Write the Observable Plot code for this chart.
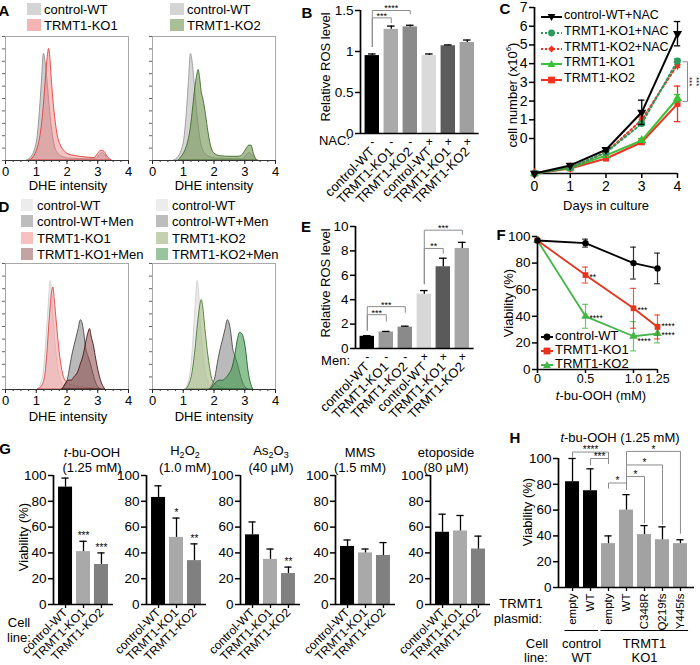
<!DOCTYPE html>
<html><head><meta charset="utf-8">
<script src="https://cdn.jsdelivr.net/npm/d3@7"></script>
<script src="https://cdn.jsdelivr.net/npm/@observablehq/plot@0.6"></script>
<style>
body{margin:0;background:#fff;}
#fig{position:relative;width:700px;height:665px;font-family:"Liberation Sans",Arial,Helvetica,sans-serif;color:#000;overflow:hidden;background:#fff;}
#fig div.t{position:absolute;white-space:nowrap;line-height:1;}
.sub{font-size:9px;vertical-align:-3px;}
</style></head><body><div id="fig"></div>
<script>
// ================= DATA =================
// Panel A: DHE intensity histograms (x = DHE intensity, y = relative count)
const dheA_wt  = [[0.7,0],[0.85,0.03],[0.95,0.08],[1.05,0.2],[1.12,0.4],[1.18,0.62],[1.25,0.86],[1.3,0.8],[1.38,0.6],[1.45,0.4],[1.52,0.24],[1.6,0.12],[1.7,0.06],[1.85,0.03],[2.1,0.015],[2.6,0.01],[2.95,0.01],[3.05,0.04],[3.15,0.06],[3.25,0.04],[3.35,0.01],[3.45,0]];
const dheA_ko1 = [[0.8,0],[0.95,0.04],[1.05,0.1],[1.15,0.22],[1.25,0.45],[1.32,0.68],[1.38,0.85],[1.42,0.9],[1.46,0.82],[1.52,0.6],[1.6,0.38],[1.7,0.2],[1.8,0.12],[1.9,0.08],[2.05,0.05],[2.3,0.035],[2.6,0.025],[2.9,0.02],[3.0,0.05],[3.12,0.08],[3.22,0.07],[3.32,0.03],[3.45,0]];
const dheA_ko2 = [[0.85,0],[0.95,0.03],[1.05,0.07],[1.15,0.14],[1.25,0.27],[1.32,0.42],[1.4,0.6],[1.45,0.68],[1.5,0.73],[1.55,0.66],[1.6,0.55],[1.65,0.5],[1.72,0.4],[1.8,0.26],[1.9,0.12],[2.0,0.06],[2.2,0.035],[2.5,0.03],[2.8,0.03],[2.95,0.05],[3.05,0.09],[3.15,0.12],[3.22,0.12],[3.3,0.05],[3.4,0]];
// Panel D
const dheD_wt     = [[1.05,0],[1.15,0.04],[1.25,0.15],[1.32,0.35],[1.4,0.65],[1.47,0.86],[1.52,0.75],[1.58,0.5],[1.65,0.3],[1.72,0.15],[1.8,0.07],[1.9,0.03],[2.05,0.01],[2.2,0]];
const dheD_wtMen  = [[1.85,0],[1.95,0.03],[2.05,0.1],[2.12,0.2],[2.2,0.3],[2.3,0.4],[2.38,0.48],[2.45,0.55],[2.5,0.53],[2.56,0.45],[2.62,0.33],[2.7,0.26],[2.78,0.2],[2.86,0.12],[2.95,0.05],[3.05,0.01],[3.12,0]];
const dheD_ko1    = [[1.05,0],[1.2,0.03],[1.3,0.12],[1.38,0.35],[1.45,0.6],[1.52,0.78],[1.56,0.81],[1.6,0.72],[1.68,0.5],[1.76,0.3],[1.85,0.15],[1.95,0.07],[2.1,0.04],[2.4,0.02],[2.8,0.01],[3.1,0]];
const dheD_ko1Men = [[1.85,0],[1.95,0.04],[2.05,0.07],[2.15,0.07],[2.25,0.1],[2.35,0.13],[2.45,0.2],[2.55,0.28],[2.63,0.38],[2.7,0.45],[2.75,0.48],[2.8,0.42],[2.88,0.34],[2.95,0.24],[3.05,0.12],[3.15,0.04],[3.25,0]];
const dheD_ko2    = [[1.1,0],[1.2,0.04],[1.3,0.13],[1.4,0.32],[1.48,0.52],[1.55,0.66],[1.6,0.71],[1.65,0.65],[1.72,0.48],[1.8,0.3],[1.88,0.16],[1.96,0.07],[2.1,0.03],[2.3,0.01],[2.5,0]];
const dheD_ko2Men = [[1.9,0],[2.0,0.03],[2.1,0.06],[2.2,0.07],[2.3,0.07],[2.4,0.09],[2.5,0.12],[2.6,0.17],[2.7,0.28],[2.78,0.4],[2.85,0.45],[2.92,0.44],[2.98,0.4],[3.05,0.3],[3.12,0.15],[3.2,0.05],[3.28,0]];

// Panel B: relative ROS level (NAC)
const rosB_labels = ["control-WT","TRMT1-KO1","TRMT1-KO2","control-WT","TRMT1-KO1","TRMT1-KO2"];
const rosB_nac    = ["-","-","-","+","+","+"];
const rosB_values = [0.95,1.27,1.30,0.95,1.07,1.11];
const rosB_err    = [0.02,0.04,0.02,0.02,0.01,0.03];
const rosB_colors = ["#000000","#aaaaaa","#8a8a8a","#dadada","#5c5c5c","#a0a0a0"];
const rosB_sig    = [{from:0,to:1,level:1.41,left:1.06,right:1.35,label:"***"},{from:0,to:2,level:1.5,left:1.06,right:1.46,label:"****"}];

// Panel C: cell number over days
const cDays       = [0,1,2,3,4];
const cCtlNAC     = [-1.87,-1.44,-0.6,1.4,5.6];  const cCtlNAC_err = [0,0.05,0.1,0.65,0.65];
const cKO1NAC     = [-1.87,-1.55,-0.75,0.8,4.15]; const cKO1NAC_err = [0,0.05,0.05,0.1,0.1];
const cKO2NAC     = [-1.87,-1.55,-0.75,1.0,3.95]; const cKO2NAC_err = [0,0.05,0.05,0.15,0.15];
const cKO1        = [-1.87,-1.58,-0.9,-0.1,2.15]; const cKO1_err = [0,0.05,0.1,0.1,0.2];
const cKO2        = [-1.87,-1.6,-1.07,-0.2,1.85]; const cKO2_err = [0,0.05,0.05,0.1,0.95];
const cYTicks     = [0,1,2,3,4,5,6,7];

// Panel E: relative ROS level (menadione)
const rosE_labels = ["control-WT","TRMT1-KO1","TRMT1-KO2","control-WT","TRMT1-KO1","TRMT1-KO2"];
const rosE_men    = ["-","-","-","+","+","+"];
const rosE_values = [1.0,1.35,1.75,4.45,6.7,8.2];
const rosE_err    = [0.05,0.05,0.08,0.3,0.7,0.5];
const rosE_colors = ["#000000","#9a9a9a","#8a8a8a","#d8d8d8","#5a5a5a","#a6a6a6"];
const rosE_sig    = [{from:0,to:1,level:2.77,left:1.5,right:2.25,label:"***"},{from:0,to:2,level:3.43,left:1.5,right:2.96,label:"***"},{from:3,to:4,level:8.2,left:5.3,right:7.8,label:"**"},{from:3,to:5,level:9.7,left:5.3,right:9.35,label:"***"}];

// Panel F: viability vs t-bu-OOH
const fDose   = [0,0.5,1.0,1.25];
const fCtl    = [97,95,80,76]; const fCtl_err = [1,3,12,11.5];
const fKO1    = [97,71,46,32]; const fKO1_err = [1,6,15,9];
const fKO2    = [97,40,25,27]; const fKO2_err = [1,9,11,7];
const fStars  = [{x:0.5,y:71,t:"**"},{x:0.5,y:40,t:"****"},{x:1.0,y:46,t:"***"},{x:1.0,y:23,t:"****"},{x:1.25,y:34,t:"****"},{x:1.25,y:27.5,t:"****"}];

// Panel G: viability under different stresses
const gLabels = ["control-WT","TRMT1-KO1","TRMT1-KO2"];
const gValues = [[91,41,31],[83,52,34],[54,35,24],[45,40,38],[56,57,43]];
const gErr    = [[7,8,9],[9,15,13],[10,8,5],[5,3,10],[14,12,10]];
const gStars  = [["","***","***"],["","*","**"],["","","**"],["","",""],["","",""]];
const gColors = ["#000000","#a9a9a9","#808080"];

// Panel H: rescue with TRMT1 plasmids
const hLabels = ["empty","WT","empty","WT","C348R","Q219fs","Y445fs"];
const hValues = [82,75,34,60,41,37,34];
const hErr    = [18,17,6,12,7,10,3];
const hColors = ["#000000","#000000","#a2a2a2","#a2a2a2","#a2a2a2","#a2a2a2","#a2a2a2"];
const hSig    = [{from:0,to:2,level:105,left:101,right:96,label:"****"},{from:1,to:2,level:100,left:95,right:96,label:"***"},{from:2,to:3,level:81,left:77,right:76,label:"*"},{from:3,to:4,level:86,left:76,right:50,label:"*"},{from:3,to:5,level:95,left:76,right:49,label:"*"},{from:3,to:6,level:105.5,left:76,right:42,label:"*"}];
const hGroups = [{from:0,to:1,name:"control\nWT"},{from:2,to:6,name:"TRMT1\nKO1"}];

// ================= HELPERS =================
const FONT = '"Liberation Sans", Arial, Helvetica, sans-serif';
const fig = document.getElementById("fig");
function draw(fr, opts) {
  const svg = Plot.plot(Object.assign({
    width: 700, height: 665,
    marginLeft: fr.L, marginRight: 700 - fr.R, marginTop: fr.T, marginBottom: 665 - fr.B,
    style: {fontFamily: FONT, fontSize: "13px", background: "transparent", overflow: "visible", color: "#000"},
    color: {type: "identity"}
  }, opts));
  svg.style.position = "absolute"; svg.style.left = "0px"; svg.style.top = "0px";
  fig.appendChild(svg);
}
function txt(html, x, y, o = {}) {
  const d = document.createElement("div");
  d.className = "t";
  d.innerHTML = html;
  const ax = o.anchor === "start" ? "0" : o.anchor === "end" ? "-100%" : "-50%";
  d.style.left = x + "px"; d.style.top = y + "px";
  d.style.fontSize = (o.size || 12.5) + "px";
  if (o.bold) d.style.fontWeight = "bold";
  d.style.transform = `translate(${ax},-50%)` + (o.rotate ? ` rotate(${o.rotate}deg)` : "");
  fig.appendChild(d);
}
function swatch(x, y, w, h, color) {
  const d = document.createElement("div");
  Object.assign(d.style, {position: "absolute", left: x + "px", top: (y - h / 2) + "px", width: w + "px", height: h + "px", background: color});
  fig.appendChild(d);
}
function symSvg(sym, c, cx, cy, r) {
  if (sym === "circle") return `<circle cx="${cx}" cy="${cy}" r="${r}" fill="${c}"/>`;
  if (sym === "square") return `<rect x="${cx-r}" y="${cy-r}" width="${2*r}" height="${2*r}" fill="${c}"/>`;
  if (sym === "triangle") return `<path d="M${cx},${cy-r-0.5}L${cx+r+0.5},${cy+r-0.3}L${cx-r-0.5},${cy+r-0.3}Z" fill="${c}"/>`;
  if (sym === "tridown") return `<path d="M${cx},${cy+r+0.5}L${cx+r+0.5},${cy-r+0.3}L${cx-r-0.5},${cy-r+0.3}Z" fill="${c}"/>`;
  if (sym === "diamond") return `<path d="M${cx},${cy-r}L${cx+r},${cy}L${cx},${cy+r}L${cx-r},${cy}Z" fill="${c}"/>`;
  return "";
}
function lineKey(x, y, w, color, dash, sym, label, size) {
  const d = document.createElement("div");
  Object.assign(d.style, {position: "absolute", left: x + "px", top: (y - 6) + "px", width: w + "px", height: "12px"});
  d.innerHTML = `<svg width="${w}" height="12"><line x1="0" y1="6" x2="${w}" y2="6" stroke="${color}" stroke-width="2" ${dash ? 'stroke-dasharray="2,2"' : ""}/>${symSvg(sym, color, w / 2, 6, 3.4)}</svg>`;
  fig.appendChild(d);
  txt(label, x + w + 2, y, {anchor: "start", size: size || 12.5});
}

function hist(fr, series) {
  draw(fr, {
    x: {domain: [0, 4]}, y: {domain: [0, 1]},
    marks: [
      Plot.frame({stroke: "#a8a8a8"}),
      ...series.map(s => Plot.areaY(s.data, {x: d => d[0], y: d => d[1], fill: s.fill, fillOpacity: s.op, stroke: s.stroke, strokeWidth: 0.9, curve: "monotone-x"})),
      Plot.axisY({ticks: d3.range(0, 1.001, 0.1), tickSize: 3, tickFormat: () => "", stroke: "#666", label: null}),
      Plot.axisX({ticks: d3.range(0, 4.001, 0.25), tickSize: 2, tickFormat: () => "", stroke: "#333", label: null}),
      Plot.axisX({ticks: [0, 1, 2, 3, 4], tickSize: 4, tickPadding: 2, tickFormat: d => String(d), stroke: "#222", label: null, fontSize: 13}),
      Plot.ruleY([0], {stroke: "#333", strokeWidth: 1})
    ]
  });
}

function bracketMarks(sig, fs) {
  const pts = sig.flatMap((s, k) => [
    {k, x: s.from, y: s.left}, {k, x: s.from, y: s.level}, {k, x: s.to, y: s.level}, {k, x: s.to, y: s.right}]);
  return [
    Plot.line(pts, {x: "x", y: "y", z: "k", stroke: "#8c8c8c", strokeWidth: 1}),
    Plot.text(sig, {x: s => (s.from + s.to) / 2, y: "level", text: "label", dy: -2, fontSize: fs || 10})
  ];
}

function barPanel(fr, o) {
  const idx = o.labels.map((_, i) => i);
  const rows = idx.map(i => ({i, v: o.values[i], e: o.errs[i], c: o.colors[i]}));
  const xDom = [-o.pad, o.labels.length - 1 + o.pad];
  const cap = o.cap || 0.2;
  const marks = [
    Plot.rectY(rows, {x1: d => d.i - o.half, x2: d => d.i + o.half, y1: 0, y2: "v", fill: d => d.c}),
    Plot.ruleX(rows, {x: "i", y1: "v", y2: d => d.v + d.e, strokeWidth: 1.3}),
    Plot.ruleY(rows, {y: d => d.v + d.e, x1: d => d.i - cap, x2: d => d.i + cap, strokeWidth: 1.3}),
    Plot.ruleX([xDom[0]], {y1: o.yDomain[0], y2: o.yDomain[1], strokeWidth: 1.7}),
    Plot.ruleY([o.yDomain[0]], {x1: xDom[0], x2: xDom[1], strokeWidth: 1.7}),
    Plot.axisY({ticks: o.yTicks, tickFormat: d => String(d), tickSize: 5, tickPadding: 2, strokeWidth: 1.5, label: null, fontSize: 13.5}),
    Plot.axisX({ticks: idx, tickFormat: i => o.labels[i], tickRotate: o.rotate, tickSize: o.tickSize, tickPadding: o.tickPadding, strokeWidth: 1.3, label: null, fontSize: o.labelSize || 12.5})
  ];
  if (o.signs) marks.push(Plot.text(idx, {x: d => d, text: i => o.signs[i], frameAnchor: "bottom", lineAnchor: "middle", dy: 9, fontSize: 12}));
  if (o.sig) marks.push(...bracketMarks(o.sig, o.sigSize));
  if (o.stars) marks.push(Plot.text(rows, {x: "i", y: d => d.v + d.e, text: d => o.stars[d.i], dy: -5, fontSize: 10}));
  if (o.extra) marks.push(...o.extra(idx));
  draw(fr, {x: {domain: xDom}, y: {domain: o.yDomain}, marks});
}

// ================= PANEL A =================
hist({L: 5, R: 128, T: 36, B: 160}, [
  {data: dheA_wt, fill: "#bdbdbd", op: 0.75, stroke: "#8f8f8f"},
  {data: dheA_ko1, fill: "#f07a7a", op: 0.45, stroke: "#e83a3a"}]);
hist({L: 152, R: 275, T: 36, B: 160}, [
  {data: dheA_wt, fill: "#c8c8c8", op: 0.75, stroke: "#9a9a9a"},
  {data: dheA_ko2, fill: "#6f9152", op: 0.6, stroke: "#3e6b26"}]);
swatch(27, 9, 14, 12, "#d4d4d4"); txt("control-WT", 44, 9, {anchor: "start", size: 13});
swatch(27, 25, 14, 12, "#f6b4b4"); txt("TRMT1-KO1", 44, 25, {anchor: "start", size: 13});
swatch(170, 9, 14, 12, "#d4d4d4"); txt("control-WT", 187, 9, {anchor: "start", size: 13});
swatch(170, 25, 14, 12, "#a9bf95"); txt("TRMT1-KO2", 187, 25, {anchor: "start", size: 13});
txt("DHE intensity", 68, 185, {size: 13}); txt("DHE intensity", 214, 185, {size: 13});

// ================= PANEL D =================
hist({L: 5, R: 128, T: 263, B: 389}, [
  {data: dheD_wt, fill: "#e8e8e8", op: 0.9, stroke: "#cfcfcf"},
  {data: dheD_ko1, fill: "#f29a9a", op: 0.55, stroke: "#e04848"},
  {data: dheD_wtMen, fill: "#9c9c9c", op: 0.7, stroke: "#4a4a4a"},
  {data: dheD_ko1Men, fill: "#8a4848", op: 0.55, stroke: "#4a1414"}]);
hist({L: 152, R: 275, T: 263, B: 389}, [
  {data: dheD_wt, fill: "#e8e8e8", op: 0.9, stroke: "#cfcfcf"},
  {data: dheD_ko2, fill: "#a9bd8c", op: 0.65, stroke: "#4a7a30"},
  {data: dheD_wtMen, fill: "#9c9c9c", op: 0.7, stroke: "#4a4a4a"},
  {data: dheD_ko2Men, fill: "#3f9a4c", op: 0.6, stroke: "#22602a"}]);
[["control-WT", "#ececec"], ["control-WT+Men", "#bdbdbd"], ["TRMT1-KO1", "#f9c0c0"], ["TRMT1-KO1+Men", "#c6a3a3"]].forEach(([n, c], k) => {
  const y = 205 + k * 16.3; swatch(21, y, 12, 12, c); txt(n, 37, y, {anchor: "start", size: 13}); });
[["control-WT", "#ececec"], ["control-WT+Men", "#bdbdbd"], ["TRMT1-KO2", "#c3d1b1"], ["TRMT1-KO2+Men", "#98c49e"]].forEach(([n, c], k) => {
  const y = 205 + k * 16.3; swatch(156, y, 12, 12, c); txt(n, 172, y, {anchor: "start", size: 13}); });
txt("DHE intensity", 68, 416, {size: 13}); txt("DHE intensity", 214, 416, {size: 13});

// ================= PANEL B =================
barPanel({L: 360, R: 478.6, T: 10, B: 133}, {
  labels: rosB_labels, values: rosB_values, errs: rosB_err, colors: rosB_colors,
  pad: 0.62, half: 0.38, yDomain: [0, 1.5], yTicks: [0, 0.5, 1, 1.5], rotate: -45, tickSize: 0, tickPadding: 16, labelSize: 13,
  signs: rosB_nac, sig: rosB_sig, sigSize: 9});
txt("Relative ROS level", 325, 67, {rotate: -90, size: 13});
txt("NAC:", 350, 140, {anchor: "end", size: 13});

// ================= PANEL E =================
barPanel({L: 355, R: 473.6, T: 226, B: 348}, {
  labels: rosE_labels, values: rosE_values, errs: rosE_err, colors: rosE_colors,
  pad: 0.62, half: 0.38, yDomain: [0, 10], yTicks: [0, 2, 4, 6, 8, 10], rotate: -45, tickSize: 0, tickPadding: 16, labelSize: 13,
  signs: rosE_men, sig: rosE_sig, sigSize: 9});
txt("Relative ROS level", 325, 283, {rotate: -90, size: 13});
txt("Men:", 350, 360, {anchor: "end", size: 13});

// ================= PANEL C =================
{
  const series = [
    {v: cKO2, e: cKO2_err, color: "#f2311f", dash: null, sym: "square", rot: 0},
    {v: cKO1, e: cKO1_err, color: "#38c238", dash: null, sym: "triangle", rot: 0},
    {v: cKO2NAC, e: cKO2NAC_err, color: "#f2311f", dash: "2,2.5", sym: "diamond", rot: 0},
    {v: cKO1NAC, e: cKO1NAC_err, color: "#2a9a5a", dash: "2,2.5", sym: "circle", rot: 0},
    {v: cCtlNAC, e: cCtlNAC_err, color: "#000000", dash: null, sym: "triangle", rot: 180}
  ];
  const marks = [
    Plot.ruleX([0], {y1: -1.87, y2: 7, strokeWidth: 1.7}),
    Plot.ruleY([-1.87], {x1: 0, x2: 4, strokeWidth: 1.7}),
    Plot.axisY({ticks: cYTicks, tickFormat: d => String(d), tickSize: 5, tickPadding: 2, strokeWidth: 1.5, label: null, fontSize: 14}),
    Plot.axisX({ticks: cDays, tickFormat: d => String(d), tickSize: 5, tickPadding: 3, strokeWidth: 1.5, label: null, fontSize: 14})
  ];
  for (const s of series) {
    const rows = cDays.map((d, i) => ({d, v: s.v[i], e: s.e[i]}));
    const er = rows.filter(r => r.e > 0.06);
    marks.push(
      Plot.ruleX(er, {x: "d", y1: r => r.v - r.e, y2: r => r.v + r.e, stroke: s.color, strokeWidth: 1.3}),
      Plot.ruleY(er, {y: r => r.v + r.e, x1: r => r.d - 0.09, x2: r => r.d + 0.09, stroke: s.color, strokeWidth: 1.3}),
      Plot.ruleY(er, {y: r => r.v - r.e, x1: r => r.d - 0.09, x2: r => r.d + 0.09, stroke: s.color, strokeWidth: 1.3}),
      Plot.line(rows, {x: "d", y: "v", stroke: s.color, strokeWidth: 2, strokeDasharray: s.dash}),
      Plot.dot(rows, {x: "d", y: "v", symbol: s.sym, fill: s.color, r: 3.4, rotate: s.rot}));
  }
  // significance between +NAC and untreated at day 4
  const cSig = [{day: 4, hi: 4.1, lo: 1.98}];
  marks.push(
    Plot.line(cSig.flatMap(s => [{x: s.day + 0.15, y: s.hi}, {x: s.day + 0.28, y: s.hi}, {x: s.day + 0.28, y: s.lo}, {x: s.day + 0.15, y: s.lo}]), {x: "x", y: "y", stroke: "#8c8c8c", strokeWidth: 1}),
    Plot.text(cSig, {x: s => s.day + 0.28, y: s => (s.hi + s.lo) / 2, text: () => "***\n***", rotate: 90, dx: 5.5, fontSize: 8, lineHeight: 0.85})
  );
  draw({L: 534, R: 677, T: 7, B: 173}, {x: {domain: [0, 4]}, y: {domain: [-1.87, 7]}, marks});
  lineKey(541, 15, 21, "#000000", false, "tridown", "control-WT+NAC", 12.5);
  lineKey(541, 31, 21, "#2a9a5a", true, "circle", "TRMT1-KO1+NAC", 12.5);
  lineKey(541, 46.5, 21, "#f2311f", true, "diamond", "TRMT1-KO2+NAC", 12.5);
  lineKey(541, 62, 21, "#38c238", false, "triangle", "TRMT1-KO1", 12.5);
  lineKey(541, 78, 21, "#f2311f", false, "square", "TRMT1-KO2", 12.5);
  txt("cell number (x10<sup style='font-size:8px'>6</sup>)", 512, 95, {rotate: -90, size: 13});
  txt("Days in culture", 606, 205, {size: 13});
}

// ================= PANEL F =================
{
  const series = [
    {v: fKO2, e: fKO2_err, color: "#43b649", sym: "triangle"},
    {v: fKO1, e: fKO1_err, color: "#e8321e", sym: "square"},
    {v: fCtl, e: fCtl_err, color: "#000000", sym: "circle"}
  ];
  const marks = [
    Plot.ruleX([0], {y1: 0, y2: 100, strokeWidth: 1.7}),
    Plot.ruleY([0], {x1: 0, x2: 1.25, strokeWidth: 1.7}),
    Plot.axisY({ticks: [0, 20, 40, 60, 80, 100], tickFormat: d => String(d), tickSize: 5, tickPadding: 2, strokeWidth: 1.5, label: null, fontSize: 13.5}),
    Plot.axisX({ticks: fDose, tickFormat: d => (d === 1 ? "1.0" : String(d)), tickSize: 4, tickPadding: 1, strokeWidth: 1.5, label: null, fontSize: 12.5})
  ];
  for (const s of series) {
    const rows = fDose.map((d, i) => ({d, v: s.v[i], e: s.e[i]}));
    const er = rows.filter(r => r.e > 1.5);
    marks.push(
      Plot.ruleX(er, {x: "d", y1: r => r.v - r.e, y2: r => r.v + r.e, stroke: s.color, strokeWidth: 1.2, strokeOpacity: 0.8}),
      Plot.ruleY(er, {y: r => r.v + r.e, x1: r => r.d - 0.03, x2: r => r.d + 0.03, stroke: s.color, strokeWidth: 1.2, strokeOpacity: 0.8}),
      Plot.ruleY(er, {y: r => r.v - r.e, x1: r => r.d - 0.03, x2: r => r.d + 0.03, stroke: s.color, strokeWidth: 1.2, strokeOpacity: 0.8}),
      Plot.line(rows, {x: "d", y: "v", stroke: s.color, strokeWidth: 1.8}),
      Plot.dot(rows, {x: "d", y: "v", symbol: s.sym, fill: s.color, r: 3.2}));
  }
  marks.push(Plot.text(fStars, {x: "x", y: "y", text: "t", textAnchor: "start", dx: 4, dy: 2, fontSize: 8.5}));
  draw({L: 537, R: 657, T: 236, B: 369}, {x: {domain: [0, 1.25]}, y: {domain: [0, 100]}, marks});
  lineKey(541, 335, 12, "#000000", false, "circle", "control-WT", 13);
  lineKey(541, 349, 12, "#e8321e", false, "square", "TRMT1-KO1", 13);
  lineKey(541, 362.5, 12, "#43b649", false, "triangle", "TRMT1-KO2", 13);
  txt("Viability (%)", 508, 303, {rotate: -90, size: 13});
  txt("<i>t</i>-bu-OOH (mM)", 601, 395, {size: 13});
}

// ================= PANEL G =================
{
  const gx = [53, 146, 240, 335, 430];
  gx.forEach((g, k) => {
    barPanel({L: g, R: g + 60, T: 475, B: 604}, {
      labels: gLabels, values: gValues[k], errs: gErr[k], colors: gColors,
      pad: 0.67, half: 0.39, yDomain: [0, 100], yTicks: [0, 20, 40, 60, 80, 100], rotate: -45, tickSize: 4, tickPadding: 2, labelSize: 12,
      stars: gStars[k]});
  });
  const titles = [["<i>t</i>-bu-OOH", "(1.25 mM)", 92], ["H<span class='sub'>2</span>O<span class='sub'>2</span>", "(1.0 mM)", 185], ["As<span class='sub'>2</span>O<span class='sub'>3</span>", "(40 µM)", 271], ["MMS", "(1.5 mM)", 360], ["etoposide", "(80 µM)", 446]];
  titles.forEach(([a, b, x]) => { txt(a, x, 452, {size: 13}); txt(b, x, 467, {size: 13}); });
  txt("Viability (%)", 23, 537, {rotate: -90, size: 13});
  txt("Cell", 19, 622, {size: 13}); txt("line:", 19, 637, {size: 13});
}

// ================= PANEL H =================
barPanel({L: 558, R: 694, T: 458, B: 587}, {
  labels: hLabels, values: hValues, errs: hErr, colors: hColors,
  pad: 0.78, half: 0.39, yDomain: [0, 100], yTicks: [0, 20, 40, 60, 80, 100], rotate: -90, tickSize: 4, tickPadding: 2, labelSize: 11.5,
  sig: hSig, sigSize: 10,
  extra: () => [
    Plot.ruleY(hGroups, {y: 0, dy: 43, x1: g => g.from - 0.42, x2: g => g.to + 0.45, strokeWidth: 1.2}),
    Plot.text(hGroups, {x: g => (g.from + g.to) / 2, frameAnchor: "bottom", lineAnchor: "middle", text: "name", dy: 63, fontSize: 13, lineHeight: 1.08})
  ]});
txt("<i>t</i>-bu-OOH (1.25 mM)", 620, 437, {size: 13});
txt("Viability (%)", 527, 512, {rotate: -90, size: 13});
txt("TRMT1", 521, 603, {size: 13}); txt("plasmid:", 518, 618, {size: 13});
txt("Cell", 537, 643, {size: 13}); txt("line:", 536, 657, {size: 13});

// ================= PANEL LETTERS =================
[["A", 4, 10], ["B", 307, 12], ["C", 505, 8], ["D", 4, 206], ["E", 306, 226], ["F", 501, 234], ["G", 5, 448], ["H", 515, 437]]
  .forEach(([l, x, y]) => txt(l, x, y, {bold: true, size: 15}));
</script></body></html>
